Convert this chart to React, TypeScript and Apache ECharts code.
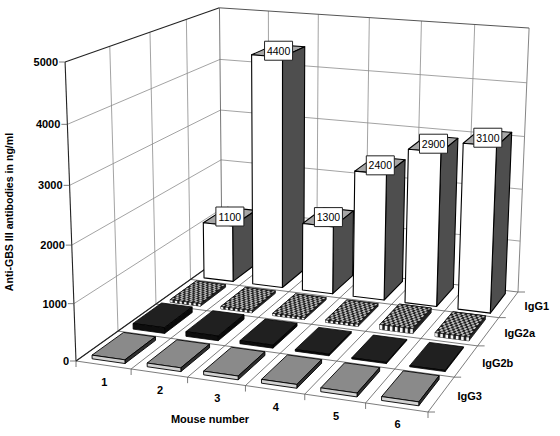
import React, { useEffect, useRef } from "react";
import * as echarts from "echarts";

const WIDTH = 560;
const HEIGHT = 436;

const mice = ["1", "2", "3", "4", "5", "6"];
const rows = ["IgG3", "IgG2b", "IgG2a", "IgG1"];
const valueTicks = [0, 1000, 2000, 3000, 4000, 5000];
const igG1 = [1100, 4400, 1300, 2400, 2900, 3100];
const igG2a = [50, 45, 40, 45, 90, 70];
const igG2b = [105, 85, 55, 30, 20, 20];
const igG3 = [65, 65, 65, 65, 65, 65];

const MAX_VALUE = 5000;
const FONT = '"Liberation Sans", Arial, sans-serif';

// Camera: where the corners of the plot box fall on the page.
const FRONT_LEFT = [76, 361];
const FRONT_RIGHT = [428, 412];
const BACK_RIGHT = [518, 292];
const BACK_LEFT = [222, 257];
const TOP_FRONT_LEFT_Y = 62;
const VERTICAL_VANISH = [280, 5950];

function buildProjection() {
  const [x0, y0] = FRONT_LEFT;
  const [x1, y1] = FRONT_RIGHT;
  const [x2, y2] = BACK_RIGHT;
  const [x3, y3] = BACK_LEFT;
  const dx1 = x1 - x2, dx2 = x3 - x2, sx = x0 - x1 + x2 - x3;
  const dy1 = y1 - y2, dy2 = y3 - y2, sy = y0 - y1 + y2 - y3;
  const den = dx1 * dy2 - dx2 * dy1;
  const g = (sx * dy2 - dx2 * sy) / den;
  const h = (dx1 * sy - sx * dy1) / den;
  const ax = x1 - x0 + g * x1, bx = x3 - x0 + h * x3;
  const ay = y1 - y0 + g * y1, by = y3 - y0 + h * y3;
  const [vx, vy] = VERTICAL_VANISH;
  const i = (y0 - TOP_FRONT_LEFT_Y) / (TOP_FRONT_LEFT_Y - vy);
  return (u: number, v: number, w: number) => {
    const d = g * u + h * v + i * w + 1;
    return [(ax * u + bx * v + x0 + i * w * vx) / d, (ay * u + by * v + y0 + i * w * vy) / d];
  };
}
const project = buildProjection();

// The hidden cartesian axes supply the scales: mouse position -> u, antibody value -> w.
function scaled(api: any, mouse: number, row: number, value: number) {
  const c = api.coord([mouse, value]);
  return project(c[0] / WIDTH, row / rows.length, (HEIGHT - c[1]) / HEIGHT);
}

const line = (a: number[], b: number[], stroke: string, lineWidth: number) => ({
  type: "line",
  shape: { x1: a[0], y1: a[1], x2: b[0], y2: b[1] },
  style: { stroke, lineWidth, fill: "none" },
});

const poly = (points: number[][], fill: string, stroke: string | null, lineWidth = 1) => ({
  type: "polygon",
  shape: { points },
  style: { fill, stroke: stroke ?? "none", lineWidth, lineJoin: "round" },
});

const label = (
  text: string, x: number, y: number, align: string, size: number, weight: string,
) => ({
  type: "text",
  style: {
    text, x, y, align, verticalAlign: "middle",
    fontFamily: FONT, fontSize: size, fontWeight: weight, fill: "#000",
  },
});

const BAR_MARGIN_U = 0.2;
const BAR_MARGIN_V = 0.12;

function barFaces(api: any, mouse: number, row: number, value: number, look: any) {
  const u0 = mouse + BAR_MARGIN_U, u1 = mouse + 1 - BAR_MARGIN_U;
  const v0 = row + BAR_MARGIN_V, v1 = row + 1 - BAR_MARGIN_V;
  const p = (u: number, v: number, val: number) => scaled(api, u, v, val);
  const children: any[] = [
    poly([p(u0, v0, value), p(u1, v0, value), p(u1, v1, value), p(u0, v1, value)], look.top, look.stroke, look.width),
    poly([p(u1, v0, 0), p(u1, v1, 0), p(u1, v1, value), p(u1, v0, value)], look.side, look.stroke, look.width),
    poly([p(u0, v0, 0), p(u1, v0, 0), p(u1, v0, value), p(u0, v0, value)], look.front, look.stroke, look.width),
  ];
  if (look.checker) {
    const nu = 13, nv = 11;
    for (let a = 0; a < nu; a++) {
      const ua = u0 + ((u1 - u0) * a) / nu, ub = u0 + ((u1 - u0) * (a + 1)) / nu;
      if (a % 2 === 0) {
        children.push(poly([p(ua, v0, 0), p(ub, v0, 0), p(ub, v0, value), p(ua, v0, value)], "#f4f4f4", null));
      }
      for (let b = 0; b < nv; b++) {
        if ((a + b) % 2 !== 0) continue;
        const va = v0 + ((v1 - v0) * b) / nv, vb = v0 + ((v1 - v0) * (b + 1)) / nv;
        children.push(poly([p(ua, va, value), p(ub, va, value), p(ub, vb, value), p(ua, vb, value)], "#bdbdbd", null));
      }
    }
    children.push({
      ...poly([p(u0, v0, value), p(u1, v0, value), p(u1, v1, value), p(u0, v1, value)], "none", look.stroke, look.width),
    });
  }
  return { type: "group", children };
}

const looks: Record<string, any> = {
  IgG1: { top: "#a6a6a6", side: "#4e4e4e", front: "#ffffff", stroke: "#000", width: 1.1 },
  IgG2a: { top: "#1c1c1c", side: "#222", front: "#222", stroke: "#111", width: 0.8, checker: true },
  IgG2b: { top: "#202020", side: "#0a0a0a", front: "#0e0e0e", stroke: "#000", width: 0.8 },
  IgG3: { top: "#8a8a8a", side: "#2e2e2e", front: "#d2d2d2", stroke: "#000", width: 0.9 },
};

const barSeries = (name: string, values: number[]) => ({
  type: "custom",
  name,
  coordinateSystem: "cartesian2d",
  clip: false,
  silent: true,
  data: values.map((value, i) => [i, value]),
  renderItem: (_: any, api: any) =>
    barFaces(api, api.value(0), rows.indexOf(name), api.value(1), looks[name]),
});

const WALL = "#8c8c8c";
const FLOOR = "#5a5a5a";

function renderFrame(_: any, api: any) {
  const nm = mice.length, nr = rows.length;
  const children: any[] = [];
  // left and back walls
  for (let k = 1; k < nr; k++) {
    children.push(line(scaled(api, 0, k, 0), scaled(api, 0, k, MAX_VALUE), WALL, 0.8));
  }
  for (let k = 1; k < nm; k++) {
    children.push(line(scaled(api, k, nr, 0), scaled(api, k, nr, MAX_VALUE), WALL, 0.8));
  }
  children.push(line(scaled(api, nm, nr, 0), scaled(api, nm, nr, MAX_VALUE), "#777", 0.9));
  valueTicks.forEach((t) => {
    if (t === 0 || t === MAX_VALUE) return;
    const a = scaled(api, 0, 0, t), b = scaled(api, 0, nr, t), c = scaled(api, nm, nr, t);
    children.push(line(a, b, WALL, 0.8), line(b, c, WALL, 0.8));
  });
  // floor
  for (let k = 0; k <= nm; k++) {
    const front = scaled(api, k, 0, 0);
    children.push(line(front, scaled(api, k, nr, 0), FLOOR, 0.8));
    children.push(line(front, [front[0], front[1] + 6], FLOOR, 0.8));
  }
  for (let k = 0; k <= nr; k++) {
    const right = scaled(api, nm, k, 0);
    children.push(line(scaled(api, 0, k, 0), right, FLOOR, 0.8));
    children.push(line(right, [right[0] + 7, right[1]], FLOOR, 0.8));
  }
  children.push(line(scaled(api, 0, 0, 0), scaled(api, 0, nr, 0), "#222", 1.1));
  // outline
  const tl = scaled(api, 0, 0, MAX_VALUE), tb = scaled(api, 0, nr, MAX_VALUE), tr = scaled(api, nm, nr, MAX_VALUE);
  children.push(line(scaled(api, 0, 0, 0), tl, "#222", 1.1));
  children.push(line(tl, tb, "#222", 1.1));
  children.push(line(tb, tr, "#555", 1));
  children.push(line(scaled(api, 0, nr, 0), tb, "#666", 0.9));
  return { type: "group", children };
}

function renderAxisText(_: any, api: any) {
  const children: any[] = [];
  valueTicks.forEach((t) => {
    const p = scaled(api, 0, 0, t);
    children.push(line([p[0] - 6, p[1]], p, FLOOR, 0.8));
    children.push(label(String(t), p[0] - 7, p[1], "right", 11, "bold"));
  });
  mice.forEach((m, i) => {
    const p = scaled(api, i + 0.5, 0, 0);
    children.push(label(m, p[0] + 1, p[1] + 17, "center", 11, "bold"));
  });
  rows.forEach((r, i) => {
    const p = scaled(api, mice.length, i + 0.5, 0);
    children.push(label(r, p[0] + 16, p[1] + 1.5, "left", 11, "bold"));
  });
  return { type: "group", children };
}

function renderValueLabels(_: any, api: any) {
  const mouse = api.value(0), value = api.value(1);
  const row = rows.indexOf("IgG1");
  const c = scaled(api, mouse + 0.5, row + 0.5, value);
  const w = 28, h = 19;
  return {
    type: "group",
    children: [
      {
        type: "rect",
        shape: { x: c[0] - w / 2, y: c[1] - h / 2, width: w, height: h },
        style: { fill: "#fff", stroke: "#222", lineWidth: 1 },
      },
      label(String(value), c[0], c[1], "center", 10.5, "normal"),
    ],
  };
}

export default function App() {
  const ref = useRef<HTMLDivElement>(null);
  useEffect(() => {
    const chart = echarts.init(ref.current!, null, { renderer: "svg" });
    chart.setOption({
      animation: false,
      backgroundColor: "#fff",
      grid: { left: 0, top: 0, width: WIDTH, height: HEIGHT },
      xAxis: { type: "value", min: 0, max: mice.length, show: false },
      yAxis: { type: "value", min: 0, max: MAX_VALUE, show: false },
      graphic: [
        {
          type: "text",
          x: 9,
          y: 212,
          rotation: Math.PI / 2,
          style: {
            text: "Anti-GBS III antibodies in ng/ml",
            align: "center",
            verticalAlign: "middle",
            fontFamily: FONT,
            fontSize: 10.6,
            fontWeight: "bold",
            fill: "#000",
          },
        },
        {
          type: "text",
          x: 210,
          y: 419,
          style: {
            text: "Mouse number",
            align: "center",
            verticalAlign: "middle",
            fontFamily: FONT,
            fontSize: 11,
            fontWeight: "bold",
            fill: "#000",
          },
        },
      ],
      series: [
        { type: "custom", name: "frame", clip: false, silent: true, data: [[0, 0]], renderItem: renderFrame },
        { type: "custom", name: "axis", clip: false, silent: true, data: [[0, 0]], renderItem: renderAxisText },
        barSeries("IgG1", igG1),
        barSeries("IgG2a", igG2a),
        barSeries("IgG2b", igG2b),
        barSeries("IgG3", igG3),
        {
          type: "custom",
          name: "values",
          clip: false,
          silent: true,
          data: igG1.map((v, i) => [i, v]),
          renderItem: renderValueLabels,
        },
      ],
    });
    return () => chart.dispose();
  }, []);
  return (
    <div
      ref={ref}
      style={{ position: "absolute", left: 0, top: 0, width: WIDTH, height: HEIGHT }}
    />
  );
}
